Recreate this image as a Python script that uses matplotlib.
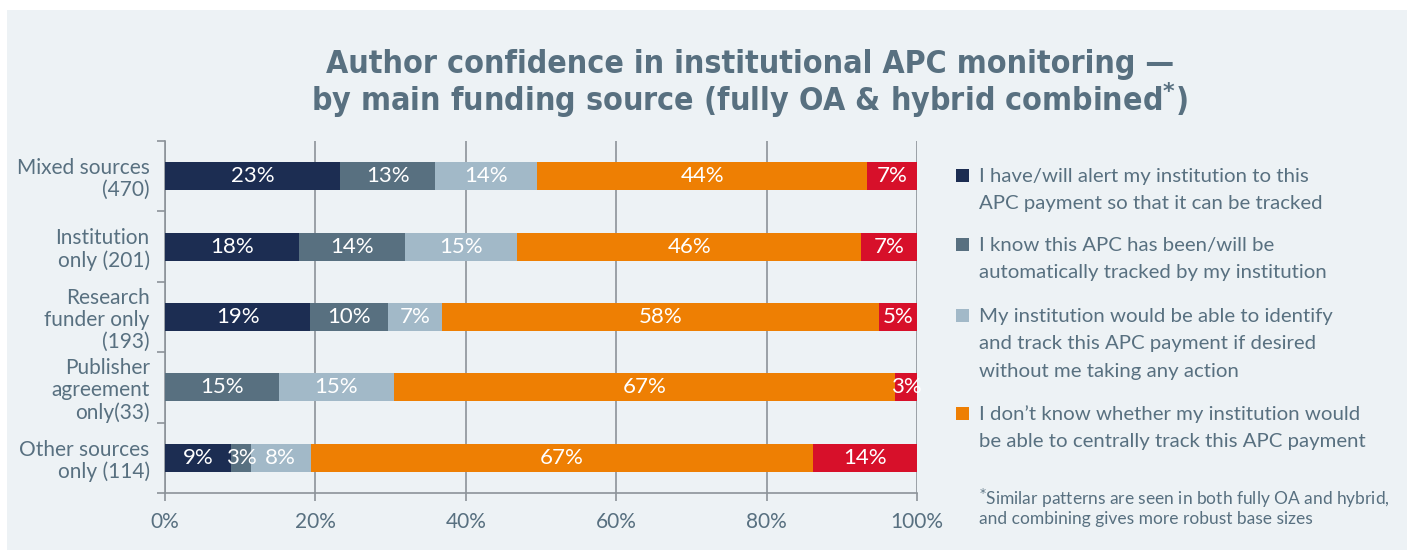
import matplotlib.pyplot as plt
import matplotlib.patches as mpatches
import numpy as np

# Data (% of respondents)
categories = ["Mixed sources\n(470)", "Institution\nonly (201)", "Research\nfunder only\n(193)",
              "Publisher\nagreement\nonly(33)", "Other sources\nonly (114)"]
alert = [23.3, 17.8, 19.3, 0.0, 8.8]
auto_tracked = [12.6, 14.1, 10.3, 15.1, 2.6]
could_identify = [13.6, 14.9, 7.3, 15.3, 8.0]
dont_know = [43.9, 45.8, 58.0, 66.7, 66.8]
other = [6.6, 7.4, 5.1, 2.9, 13.9]
series = [alert, auto_tracked, could_identify, dont_know, other]
legend_labels = [
    "I have/will alert my institution to this\nAPC payment so that it can be tracked",
    "I know this APC has been/will be\nautomatically tracked by my institution",
    "My institution would be able to identify\nand track this APC payment if desired\nwithout me taking any action",
    "I don\u2019t know whether my institution would\nbe able to centrally track this APC payment",
]
title_lines = ["Author confidence in institutional APC monitoring \u2014",
               "by main funding source (fully OA & hybrid combined$^{\\mathbf{*}}$)"]
xticks = [0, 20, 40, 60, 80, 100]

colors = ["#1c2d52", "#587080", "#a2b9c8", "#ee7f03", "#d7102a"]
bg = "#edf2f5"
text_col = "#587080"
grid_col = "#8c9399"

plt.rcParams['font.family'] = ['Lato', 'DejaVu Sans']

fig = plt.figure(figsize=(14.07, 5.5), dpi=100)
fig.patch.set_facecolor("white")
fig.add_artist(mpatches.Rectangle((7 / 1407, 0), 1 - 7 / 1407, 1 - 10 / 550,
                                  transform=fig.transFigure, facecolor=bg,
                                  edgecolor="none", zorder=-10))

ax = fig.add_axes([165 / 1407, 1 - 493 / 550, 752 / 1407, 352 / 550])
ax.set_facecolor("none")

y = np.arange(len(categories))
left = np.zeros(len(categories))
for vals, col in zip(series, colors):
    vals = np.array(vals)
    ax.barh(y, vals, left=left, height=0.4, color=col, zorder=3)
    for yi, (l, v) in enumerate(zip(left, vals)):
        if v > 0:
            ax.text(l + v / 2, yi, f"{int(np.floor(v + 0.5))}%", ha="center", va="center",
                    color="white", fontsize=16, zorder=4)
    left += vals

ax.set_xlim(0, 100)
ax.set_ylim(len(categories) - 0.5, -0.5)
ax.set_xticks(xticks)
ax.set_xticklabels([f"{t}%" for t in xticks])
ax.xaxis.grid(True, color=grid_col, linewidth=1.2, zorder=0)
ax.set_yticks(np.arange(-0.5, len(categories), 1))
ax.set_yticklabels([])
ax.set_yticks(y, minor=True)
ax.set_yticklabels(categories, minor=True, fontsize=15, color=text_col, linespacing=1.12)
ax.tick_params(axis="y", which="minor", length=0, pad=11)
ax.tick_params(axis="y", which="major", length=6, color=grid_col, width=1.2)
ax.tick_params(axis="x", length=6, color=grid_col, width=1.2, labelsize=15,
               labelcolor=text_col, pad=8)
for s in ["top", "right"]:
    ax.spines[s].set_visible(False)
for s in ["left", "bottom"]:
    ax.spines[s].set_color(grid_col)
    ax.spines[s].set_linewidth(1.2)

# Title, one line at a time
for i, line in enumerate(title_lines):
    fig.text(750 / 1407, 1 - (73 + 38 * i) / 550, line, ha="center", va="baseline",
             fontsize=23, fontweight="bold", color=text_col,
             family="DejaVu Sans", fontstretch="condensed")

# Legend (manual, four entries; each line placed separately)
leg_y = [176, 245, 316, 414]
for ly, lab, col in zip(leg_y, legend_labels, colors[:4]):
    fig.add_artist(mpatches.Rectangle((956 / 1407, 1 - (ly + 6) / 550), 13 / 1407, 13 / 550,
                                      transform=fig.transFigure, facecolor=col,
                                      edgecolor="none"))
    for i, line in enumerate(lab.split("\n")):
        fig.text(979 / 1407, 1 - (ly + 6 + 27.3 * i) / 550, line, ha="left",
                 va="baseline", fontsize=14.7, color=text_col)

fig.text(979 / 1407, 1 - 487 / 550,
         "$^{*}$Similar patterns are seen in both fully OA and hybrid,\n"
         "and combining gives more robust base sizes",
         ha="left", va="top", fontsize=12.5, color=text_col, linespacing=1.1)

fig.savefig("out.png", dpi=100, facecolor=fig.get_facecolor())
